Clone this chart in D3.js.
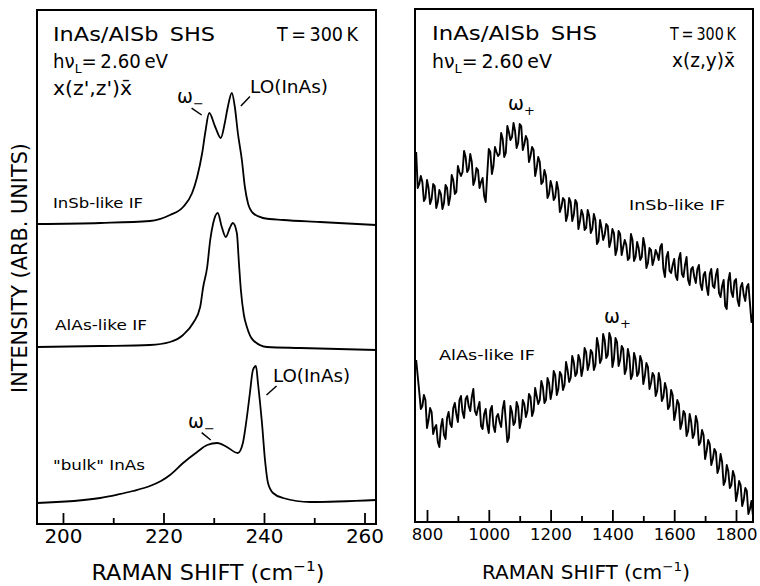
<!DOCTYPE html>
<html><head><meta charset="utf-8">
<script src="https://cdn.jsdelivr.net/npm/d3@7"></script>
<style>
body{margin:0;background:#fff}
svg{display:block}
text{font-family:"DejaVu Sans",sans-serif;fill:#000}
</style>
</head><body><svg id="c" width="760" height="586"></svg>
<script>
// ---------------- DATA ----------------
// Left panel: x(z',z')x̄ spectra (shift in cm^-1, intensity in arb. units incl. vertical offset)
const insbShift = [194.8, 207.4, 217.3, 221.3, 223.9, 225.7, 226.7, 227.7, 228.3, 229.1, 230.3, 231.4, 232.2, 232.8, 233.6, 234.2, 234.8, 235.6, 236.2, 236.8, 237.8, 239.8, 243.8, 251.1, 262.3];
const insbInt   = [150, 150.5, 151.5, 154.5, 158.5, 165.5, 173.5, 185.5, 195.5, 205.5, 198.5, 193, 200.5, 208.5, 215.5, 208.5, 195.5, 182, 168.5, 160.5, 155.5, 153, 152, 151, 149.5];

const alasShift = [194.8, 207.4, 217.3, 221.3, 223.9, 225.9, 227.3, 227.9, 228.7, 229.3, 229.9, 230.8, 231.6, 232.4, 233.2, 233.8, 234.6, 235.0, 235.4, 236.0, 236.6, 237.8, 240.6, 247.2, 262.3];
const alasInt   = [88.5, 89, 89.5, 91, 94.5, 100.5, 108.5, 118.5, 128.5, 142, 150.5, 155.5, 148.5, 143.5, 148, 150.5, 145.5, 131, 117, 104.5, 98.5, 92, 88.5, 88, 87];

const bulkShift = [194.8, 207.4, 211.0, 213.9, 217.3, 219.5, 221.3, 223.9, 226.7, 228.7, 230.7, 232.6, 234.8, 235.8, 236.6, 237.2, 237.8, 238.4, 238.8, 239.6, 240.2, 240.8, 241.8, 243.8, 249.2, 262.3];
const bulkInt   = [10.5, 13, 14.8, 16.5, 19, 21.5, 24.5, 30.5, 36, 39.5, 40.5, 38.5, 35.5, 40.5, 53.5, 65.5, 77, 79, 70.5, 50.5, 32, 20.5, 15.5, 13, 11, 12];

// Right panel: x(z,y)x̄ spectra
const rShift = [
  765,770,775,780,785,790,795,800,805,810,815,820,825,830,835,840,845,850,855,860,
  865,870,875,880,885,890,895,900,905,910,915,920,925,930,935,940,945,950,955,960,
  965,970,975,980,985,990,995,1000,1005,1010,1015,1020,1025,1030,1035,1040,1045,1050,1055,1060,
  1065,1070,1075,1080,1085,1090,1095,1100,1105,1110,1115,1120,1125,1130,1135,1140,1145,1150,1155,1160,
  1165,1170,1175,1180,1185,1190,1195,1200,1205,1210,1215,1220,1225,1230,1235,1240,1245,1250,1255,1260,
  1265,1270,1275,1280,1285,1290,1295,1300,1305,1310,1315,1320,1325,1330,1335,1340,1345,1350,1355,1360,
  1365,1370,1375,1380,1385,1390,1395,1400,1405,1410,1415,1420,1425,1430,1435,1440,1445,1450,1455,1460,
  1465,1470,1475,1480,1485,1490,1495,1500,1505,1510,1515,1520,1525,1530,1535,1540,1545,1550,1555,1560,
  1565,1570,1575,1580,1585,1590,1595,1600,1605,1610,1615,1620,1625,1630,1635,1640,1645,1650,1655,1660,
  1665,1670,1675,1680,1685,1690,1695,1700,1705,1710,1715,1720,1725,1730,1735,1740,1745,1750,1755,1760,
  1765,1770,1775,1780,1785,1790,1795,1800,1805,1810,1815,1820,1825,1830,1835,1840,1845,1850,1855];
const rInsb = [
  185,167,169,173,170,160.5,162,171,167,159,161.5,169,168,157,160,166,164,156.5,159.5,168.5,
  167,158.5,162.5,173.5,171,164,165,178,175,173,175,185.5,182.5,175,176.5,184,180,168.5,171,177,
  176,167,170,172,163,160,174,186.5,185,174,178,187.5,185,183,184,194.5,191.5,182.5,184.5,198,
  195,191,192.5,199.5,195.5,187,189.5,199,198,186,189,193,191,180,183,187.5,186,173,177,182.5,
  180,169,170,176,173,162,164,170.5,167.5,161,162.5,170,166,155,157.5,162,161,150.5,153.5,162,
  160,150.5,153.5,161,159.5,146.5,150.5,156,153.5,146,147,156,153,144.5,146.5,154,151,139,140.5,151,
  147,141,143.5,149,148,137.5,140.5,146.5,144.5,133.5,136.5,145.5,144,133.5,137.5,141,138.5,131,132,144,
  141,130.5,132.5,140,137,131,132.5,142,138,127,129.5,137,136,128.5,131.5,136,134,131,137.5,139,
  126.5,122.5,132.5,135,125.5,124.5,128.5,131.5,123,121,131.5,134.5,124,122.5,128.5,132.5,121,118.5,126.5,127.5,
  122.5,119.5,126.5,128.5,119,116,123.5,125,117.5,113.5,124,126.5,118,117,123.5,126.5,114.5,112.5,118,121,
  108,106.5,120.5,124.5,115,112.5,120.5,121.5,111,108,117.5,119.5,113.5,110.5,117.5,119,109.5,100,104];
const rAlas = [
  81,73,65,56.5,58,63.5,61,47,51,57,55,44,47,48.5,40,37.5,47.5,51.5,43.5,41.5,
  52,55,49,47.5,57,59.5,54,50,61,63,55,52,61.5,63,58,55.5,62.5,66.5,55.5,53.5,
  57,60,48,46.5,54,56.5,48.5,44.5,56,58,48,45,52.5,54,50,47.5,56.5,60.5,50.5,40,
  42,58,55,48.5,50,60,57.5,47,51,61,59,52.5,55.5,64,62.5,53,55.5,67,63,59,
  61,70.5,67.5,59.5,61,72,69.5,61.5,65.5,75.5,73.5,63.5,66.5,75,73.5,66,68.5,80,76,70,
  72,83,80,73,74.5,83.5,81,73,77,87,85,76,79,86,84.5,76,78.5,92,88,79.5,
  81.5,94,91,82,83.5,94.5,92,77.5,81.5,92,90,78,81,88,86.5,74,76.5,86.5,82.5,71.5,
  73.5,84.5,81.5,73,74.5,83,80.5,69,73,79.5,77.5,66.5,69.5,74.5,73,63,65.5,74.5,70.5,60.5,
  62.5,69.5,66.5,56.5,58,66,63.5,51,55,61,59,46.5,49.5,55.5,54,43,45.5,54,50,42,
  44,53,50,38.5,40,46,43.5,31.5,35.5,41,39,28.5,31.5,36.5,35,24.5,27,34,30,18.5,
  20.5,28.5,25.5,17,18.5,25.5,23,10.5,14.5,20.5,18.5,8,11,17,15.5,4,6.5,10.5,3];

const leftTicks = [200, 220, 240, 260];
const leftMinor = [210, 230, 250];
const rightTicks = [800, 1000, 1200, 1400, 1600, 1800];
const rightMinor = [900, 1100, 1300, 1500, 1700];

// ---------------- LAYOUT ----------------
const svg = d3.select("#c");
const L = {x0: 37, x1: 376, y0: 10, y1: 524};
const R = {x0: 415, x1: 753, y0: 9, y1: 522};

const xL = d3.scaleLinear().domain([194.83, 262.29]).range([L.x0, L.x1]);
const yL = d3.scaleLinear().domain([0, 257]).range([L.y1, L.y0]);
const xR = d3.scaleLinear().domain([761.2, 1855]).range([R.x0, R.x1]);
const yR = d3.scaleLinear().domain([0, 256.5]).range([R.y1, R.y0]);

const defs = svg.append("defs");
[["clipL", L], ["clipR", R]].forEach(([id, p]) => {
  defs.append("clipPath").attr("id", id).append("rect")
    .attr("x", p.x0).attr("y", p.y0).attr("width", p.x1 - p.x0).attr("height", p.y1 - p.y0);
});

function drawCurve(xs, ys, sx, sy, clip, curve, sw) {
  const pts = xs.map((x, i) => [x, ys[i]]);
  svg.append("path")
    .attr("clip-path", `url(#${clip})`)
    .attr("d", d3.line().x(d => sx(d[0])).y(d => sy(d[1])).curve(curve)(pts))
    .attr("fill", "none").attr("stroke", "#000").attr("stroke-width", sw)
    .attr("stroke-linejoin", "round");
}

drawCurve(insbShift, insbInt, xL, yL, "clipL", d3.curveMonotoneX, 1.8);
drawCurve(alasShift, alasInt, xL, yL, "clipL", d3.curveMonotoneX, 1.8);
drawCurve(bulkShift, bulkInt, xL, yL, "clipL", d3.curveMonotoneX, 1.8);
drawCurve(rShift, rInsb, xR, yR, "clipR", d3.curveLinear, 1.9);
drawCurve(rShift, rAlas, xR, yR, "clipR", d3.curveLinear, 1.9);

// axes
function axes(scale, p, major, minor, fs, pad, majLen, minLen) {
  const g = svg.append("g").attr("transform", `translate(0,${p.y1})`)
    .call(d3.axisBottom(scale).tickValues(major).tickSize(-majLen).tickPadding(pad).tickFormat(d3.format("d")));
  g.select(".domain").remove();
  g.selectAll(".tick line").attr("stroke", "#000").attr("stroke-width", 1.8);
  g.selectAll(".tick text").attr("font-size", fs).attr("fill", "#000")
    .style("font-family", '"DejaVu Sans",sans-serif');
  const g2 = svg.append("g").attr("transform", `translate(0,${p.y1})`)
    .call(d3.axisBottom(scale).tickValues(minor).tickSize(-minLen).tickFormat(() => ""));
  g2.select(".domain").remove();
  g2.selectAll(".tick line").attr("stroke", "#000").attr("stroke-width", 1.8);
}
axes(xL, L, leftTicks, leftMinor, 20, 5, 11, 6);
axes(xR, R, rightTicks, rightMinor, 16.5, 6, 12, 6);

// frames
[L, R].forEach(p => {
  svg.append("rect").attr("x", p.x0).attr("y", p.y0)
    .attr("width", p.x1 - p.x0).attr("height", p.y1 - p.y0)
    .attr("fill", "none").attr("stroke", "#000").attr("stroke-width", 2);
});

// text helper
function label(x, y, parts, opt) {
  const t = svg.append("text").attr("x", x).attr("y", y)
    .attr("font-size", opt.size).attr("text-anchor", opt.anchor || "start");
  if (opt.rotate) t.attr("transform", `rotate(${opt.rotate},${x},${y})`);
  let shift = 0;
  parts.forEach(p => {
    const [s, kind] = Array.isArray(p) ? p : [p, null];
    const ts = t.append("tspan").text(s);
    const target = kind === "sub" ? opt.size * 0.28 : kind === "sup" ? -opt.size * 0.42 : 0;
    if (target !== shift) ts.attr("dy", target - shift);
    if (kind) ts.attr("font-size", opt.size * 0.68);
    shift = target;
  });
  if (opt.width) t.attr("textLength", opt.width).attr("lengthAdjust", "spacingAndGlyphs");
  return t;
}
function leader(sx, sy, a, b) {
  svg.append("line").attr("x1", sx(a[0])).attr("y1", sy(a[1]))
    .attr("x2", sx(b[0])).attr("y2", sy(b[1]))
    .attr("stroke", "#000").attr("stroke-width", 1.5);
}

// left panel texts
label(53, 41, ["InAs/AlSb\u2002SHS"], {size: 19, width: 162});
label(358, 41, ["T\u2009=\u2009300\u2009K"], {size: 19, anchor: "end", width: 81});
label(53, 68, ["h\u03BD", ["L", "sub"], "=\u20092.60\u2009eV"], {size: 19, width: 115});
label(53, 95, ["x(z',z')x\u0304"], {size: 19, width: 79});
label(177, 103, ["\u03C9", ["\u2212", "sub"]], {size: 19});
label(250, 93, ["LO(InAs)"], {size: 18, width: 78});
label(53, 208, ["InSb-like IF"], {size: 14.5, width: 90});
label(55, 330, ["AlAs-like IF"], {size: 14.5, width: 92});
label(53, 470, ["\"bulk\" InAs"], {size: 14.5, width: 92});
label(188, 428, ["\u03C9", ["\u2212", "sub"]], {size: 19});
label(273, 382, ["LO(InAs)"], {size: 18, width: 77});
leader(xL, yL, [225.6, 207.9], [227.6, 204.5]);
leader(xL, yL, [235.4, 209], [237.2, 213.7]);
leader(xL, yL, [227.6, 45.7], [229.4, 42]);
leader(xL, yL, [240.5, 64.5], [242.5, 69]);

label(27, 268, ["INTENSITY (ARB. UNITS)"], {size: 20.5, anchor: "middle", rotate: -90, width: 250});
label(208, 580, ["RAMAN SHIFT (cm", ["\u22121", "sup"], ")"], {size: 21, anchor: "middle", width: 233});

// right panel texts
label(432, 40, ["InAs/AlSb\u2002SHS"], {size: 19, width: 165});
label(736, 40, ["T\u2009=\u2009300\u2009K"], {size: 17.5, anchor: "end", width: 66});
label(432, 68, ["h\u03BD", ["L", "sub"], "=\u20092.60\u2009eV"], {size: 19, width: 120});
label(735, 67, ["x(z,y)x\u0304"], {size: 19, anchor: "end", width: 63});
label(508, 110, ["\u03C9", ["+", "sub"]], {size: 19});
label(629, 210, ["InSb-like IF"], {size: 14.5, width: 96});
label(439, 360, ["AlAs-like IF"], {size: 14.5, width: 96});
label(604, 323, ["\u03C9", ["+", "sub"]], {size: 19});
label(586, 579, ["RAMAN SHIFT (cm", ["\u22121", "sup"], ")"], {size: 19, anchor: "middle", width: 208});
</script>
</body></html>
